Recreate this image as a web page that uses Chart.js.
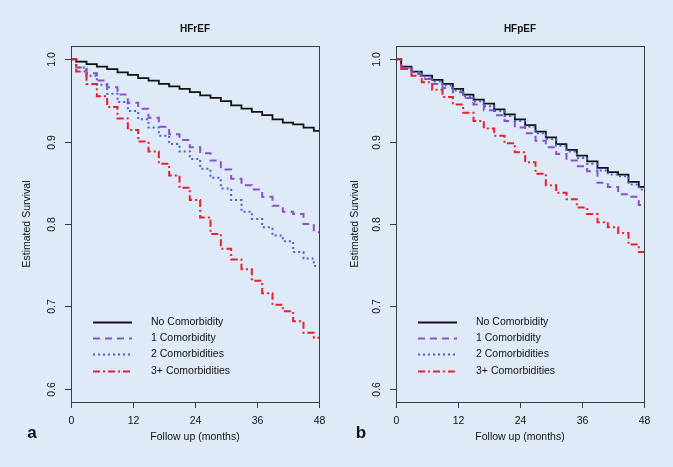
<!DOCTYPE html>
<html>
<head>
<meta charset="utf-8">
<script src="https://cdn.jsdelivr.net/npm/chart.js@4"></script>
<style>
  html, body { margin: 0; padding: 0; background: #dfeaf8; }
  #wrap { position: relative; width: 673px; height: 467px; }
  #wrap canvas { position: absolute; left: 0; top: 0; }
</style>
</head>
<body>
<div id="wrap">
  <canvas id="chartA" width="673" height="467"></canvas>
  <canvas id="chartB" width="673" height="467"></canvas>
</div>
<script>
// follow up time (months)
const months = [0, 2, 4, 6, 8, 10, 12, 14, 16, 18, 20, 22, 24, 26, 28, 30, 32, 34, 36, 38, 40, 42, 44, 46, 48];

// HFrEF survival estimates
const hfrefNone = [1.000, 0.997, 0.994, 0.991, 0.988, 0.984, 0.981, 0.977, 0.974, 0.970, 0.967, 0.964, 0.960, 0.956, 0.953, 0.949, 0.944, 0.940, 0.936, 0.932, 0.927, 0.923, 0.921, 0.917, 0.913];
const hfrefOne  = [1.000, 0.990, 0.983, 0.974, 0.966, 0.957, 0.947, 0.940, 0.929, 0.918, 0.909, 0.902, 0.893, 0.886, 0.877, 0.866, 0.855, 0.847, 0.842, 0.833, 0.822, 0.815, 0.812, 0.800, 0.790];
const hfrefTwo  = [1.000, 0.990, 0.980, 0.969, 0.958, 0.948, 0.937, 0.927, 0.917, 0.907, 0.897, 0.888, 0.879, 0.867, 0.856, 0.843, 0.829, 0.815, 0.806, 0.796, 0.786, 0.779, 0.766, 0.758, 0.749];
const hfrefThree = [1.000, 0.985, 0.970, 0.955, 0.942, 0.928, 0.914, 0.900, 0.888, 0.873, 0.859, 0.844, 0.829, 0.808, 0.788, 0.770, 0.757, 0.745, 0.731, 0.716, 0.702, 0.694, 0.682, 0.668, 0.662];

// HFpEF survival estimates
const hfpefNone = [1.000, 0.991, 0.985, 0.980, 0.975, 0.970, 0.964, 0.957, 0.951, 0.946, 0.939, 0.933, 0.927, 0.920, 0.912, 0.905, 0.897, 0.890, 0.883, 0.876, 0.868, 0.863, 0.860, 0.851, 0.845];
const hfpefOne  = [1.000, 0.989, 0.982, 0.976, 0.970, 0.965, 0.960, 0.953, 0.945, 0.938, 0.932, 0.925, 0.917, 0.910, 0.901, 0.893, 0.885, 0.877, 0.870, 0.864, 0.850, 0.845, 0.836, 0.833, 0.823];
const hfpefTwo  = [1.000, 0.990, 0.984, 0.979, 0.973, 0.968, 0.962, 0.955, 0.949, 0.943, 0.937, 0.931, 0.925, 0.918, 0.910, 0.903, 0.895, 0.888, 0.880, 0.873, 0.865, 0.860, 0.858, 0.848, 0.842];
const hfpefThree = [1.000, 0.988, 0.980, 0.972, 0.963, 0.954, 0.945, 0.935, 0.925, 0.916, 0.907, 0.898, 0.887, 0.875, 0.861, 0.847, 0.838, 0.830, 0.820, 0.812, 0.802, 0.796, 0.789, 0.775, 0.766];

const groupLabels = ['No Comorbidity', '1 Comorbidity', '2 Comorbidities', '3+ Comorbidities'];
const xTicks = [0, 12, 24, 36, 48];
const yTicks = [0.6, 0.7, 0.8, 0.9, 1.0];

const lineStyles = [
    { color: '#111111', dash: [], width: 1.8 },
    { color: '#8a52c4', dash: [7, 5], width: 2 },
    { color: '#4b5fd2', dash: [2, 3], width: 2 },
    { color: '#e5222c', dash: [7, 3, 2, 3], width: 2 }
];

const FONT = '"Liberation Sans", Arial, sans-serif';

// draws R style axes, box, labels and legend
const rPlot = {
    id: 'rPlot',
    afterDraw(chart, args, opts) {
        const ctx = chart.ctx;
        const a = chart.chartArea;
        const x = chart.scales.x;
        const y = chart.scales.y;
        ctx.save();

        ctx.strokeStyle = '#3c3c3c';
        ctx.lineWidth = 1;
        ctx.setLineDash([]);
        ctx.strokeRect(Math.round(a.left) + 0.5, Math.round(a.top) + 0.5,
            Math.round(a.right - a.left), Math.round(a.bottom - a.top));

        ctx.fillStyle = '#111';
        ctx.font = '10.5px ' + FONT;
        ctx.textAlign = 'center';
        ctx.textBaseline = 'middle';

        xTicks.forEach(function(t) {
            const px = Math.round(x.getPixelForValue(t)) + 0.5;
            ctx.beginPath();
            ctx.moveTo(px, a.bottom);
            ctx.lineTo(px, a.bottom + 6);
            ctx.stroke();
            ctx.fillText(String(t), px, a.bottom + 19);
        });

        yTicks.forEach(function(v) {
            const py = Math.round(y.getPixelForValue(v)) + 0.5;
            ctx.beginPath();
            ctx.moveTo(a.left - 6, py);
            ctx.lineTo(a.left, py);
            ctx.stroke();
            ctx.save();
            ctx.translate(a.left - 19, py);
            ctx.rotate(-Math.PI / 2);
            ctx.fillText(v.toFixed(1), 0, 0);
            ctx.restore();
        });

        const cx = (a.left + a.right) / 2;
        const cy = (a.top + a.bottom) / 2;
        ctx.fillText('Follow up (months)', cx, a.bottom + 35);
        ctx.save();
        ctx.translate(opts.yTitleX, cy);
        ctx.rotate(-Math.PI / 2);
        ctx.fillText('Estimated Survival', 0, 0);
        ctx.restore();

        ctx.font = 'bold 10px ' + FONT;
        ctx.fillText(opts.title, cx, a.top - 17);

        ctx.font = 'bold 17px ' + FONT;
        ctx.fillText(opts.letter, opts.letterX, a.bottom + 31);

        // legend
        ctx.font = '10.5px ' + FONT;
        ctx.textAlign = 'left';
        groupLabels.forEach(function(lab, i) {
            const ly = Math.round(a.top + 276 + i * 16.2) + 0.5;
            const st = lineStyles[i];
            ctx.strokeStyle = st.color;
            ctx.lineWidth = st.width;
            ctx.setLineDash(st.dash);
            ctx.beginPath();
            ctx.moveTo(a.left + 22, ly);
            ctx.lineTo(a.left + 61, ly);
            ctx.stroke();
            ctx.fillText(lab, a.left + 80, ly);
        });
        ctx.restore();
    }
};

function makeDatasets(series) {
    return series.map(function(vals, i) {
        return {
            label: groupLabels[i],
            data: months.map(function(m, k) { return { x: m, y: vals[k] }; }),
            borderColor: lineStyles[i].color,
            borderDash: lineStyles[i].dash,
            borderWidth: lineStyles[i].width,
            stepped: 'middle',
            pointRadius: 0,
            fill: false
        };
    }).reverse();
}

function makeChart(id, series, panel) {
    return new Chart(document.getElementById(id), {
        type: 'line',
        data: { datasets: makeDatasets(series) },
        options: {
            responsive: false,
            animation: false,
            layout: {
                padding: { left: panel.left, right: 673 - panel.right, top: 46, bottom: 65 }
            },
            scales: {
                x: { type: 'linear', min: 0, max: 48, display: false },
                y: { type: 'linear', min: 0.584, max: 1.016, display: false }
            },
            plugins: {
                legend: { display: false },
                tooltip: { enabled: false },
                rPlot: panel
            }
        },
        plugins: [rPlot]
    });
}

makeChart('chartA', [hfrefNone, hfrefOne, hfrefTwo, hfrefThree],
    { left: 71, right: 319, title: 'HFrEF', letter: 'a', letterX: 32, yTitleX: 27 });
makeChart('chartB', [hfpefNone, hfpefOne, hfpefTwo, hfpefThree],
    { left: 396, right: 644, title: 'HFpEF', letter: 'b', letterX: 361, yTitleX: 355 });
</script>
</body>
</html>
